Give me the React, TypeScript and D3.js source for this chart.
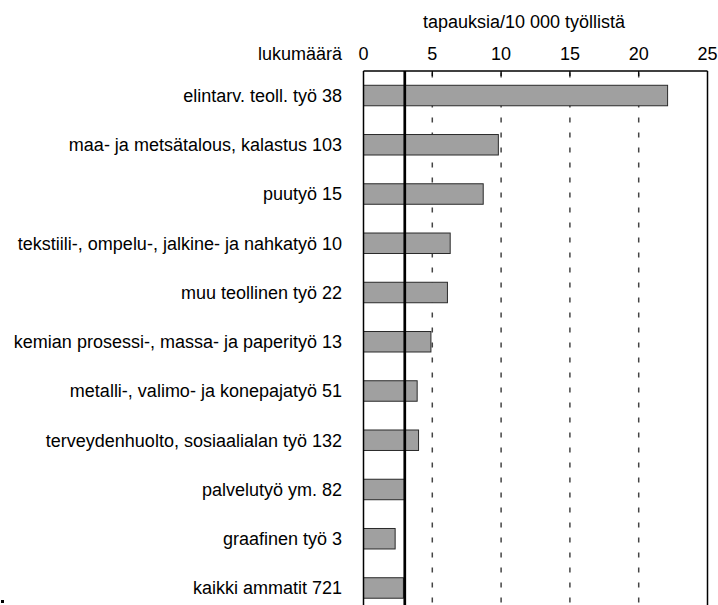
import React from "react";
import * as d3 from "d3";

const occupations = [
  "elintarv. teoll. työ",
  "maa- ja metsätalous, kalastus",
  "puutyö",
  "tekstiili-, ompelu-, jalkine- ja nahkatyö",
  "muu teollinen työ",
  "kemian prosessi-, massa- ja paperityö",
  "metalli-, valimo- ja konepajatyö",
  "terveydenhuolto, sosiaalialan työ",
  "palvelutyö ym.",
  "graafinen työ",
  "kaikki ammatit",
];
const caseCounts = [38, 103, 15, 10, 22, 13, 51, 132, 82, 3, 721];
const ratePer10000 = [22.1, 9.8, 8.7, 6.3, 6.1, 4.9, 3.9, 4.0, 3.0, 2.3, 2.9];
const xTicks = [0, 5, 10, 15, 20, 25];
const gridTicks = [5, 10, 15, 20];
const referenceRate = 3.0;

const W = 718;
const H = 605;
const FONT = "'Liberation Sans', Arial, Helvetica, sans-serif";

export default function App() {
  const labels = occupations.map((o, i) => `${o} ${caseCounts[i]}`);

  const x = d3.scaleLinear().domain([0, 25]).range([363.5, 707.5]);
  const y = d3
    .scaleBand<string>()
    .domain(labels)
    .range([70.9, 612.6])
    .paddingInner(0.584)
    .paddingOuter(0.292);

  const top = 71;

  return (
    <div style={{ position: "fixed", left: 0, top: 0 }}>
      <svg width={W} height={H} style={{ display: "block", background: "#fff" }}>
        {/* title */}
        <text x={524} y={28} textAnchor="middle" fontFamily={FONT} fontSize={18} fill="#000">
          tapauksia/10 000 työllistä
        </text>
        <text x={342} y={60} textAnchor="end" fontFamily={FONT} fontSize={18} fill="#000">
          lukumäärä
        </text>
        {xTicks.map((t) => (
          <text key={t} x={x(t)} y={60} textAnchor="middle" fontFamily={FONT} fontSize={18} fill="#000">
            {t}
          </text>
        ))}

        {/* dashed grid */}
        {gridTicks.map((t) => (
          <line
            key={t}
            x1={x(t)}
            x2={x(t)}
            y1={top}
            y2={H}
            stroke="#444"
            strokeWidth={1.5}
            strokeDasharray="5,10"
            strokeDashoffset={-1.5}
          />
        ))}
        {/* tick marks at top */}
        {gridTicks.map((t) => (
          <line key={"tk" + t} x1={x(t)} x2={x(t)} y1={top} y2={top + 5} stroke="#000" strokeWidth={1.2} />
        ))}

        {/* bars */}
        {labels.map((l, i) => (
          <g key={l}>
            <rect
              x={x(0)}
              y={y(l)!}
              width={x(ratePer10000[i]) - x(0)}
              height={y.bandwidth()}
              fill="#a0a0a0"
              stroke="#2a2a2a"
              strokeWidth={1}
            />
            <text
              x={342}
              y={y(l)! + y.bandwidth() / 2}
              dy="0.35em"
              textAnchor="end"
              fontFamily={FONT}
              fontSize={18}
              fill="#000"
            >
              {l}
            </text>
          </g>
        ))}

        {/* frame */}
        <line x1={x(0)} x2={x(25)} y1={top} y2={top} stroke="#000" strokeWidth={1.5} />
        <line x1={x(0)} x2={x(0)} y1={top} y2={H} stroke="#000" strokeWidth={1.5} />
        <line x1={x(25)} x2={x(25)} y1={top} y2={H} stroke="#000" strokeWidth={1.5} />

        {/* reference line: all occupations */}
        <line
          x1={x(referenceRate)}
          x2={x(referenceRate)}
          y1={top}
          y2={H}
          stroke="#000"
          strokeWidth={2.7}
        />

        <rect x={1} y={600} width={3} height={3} fill="#000" />
      </svg>
    </div>
  );
}
